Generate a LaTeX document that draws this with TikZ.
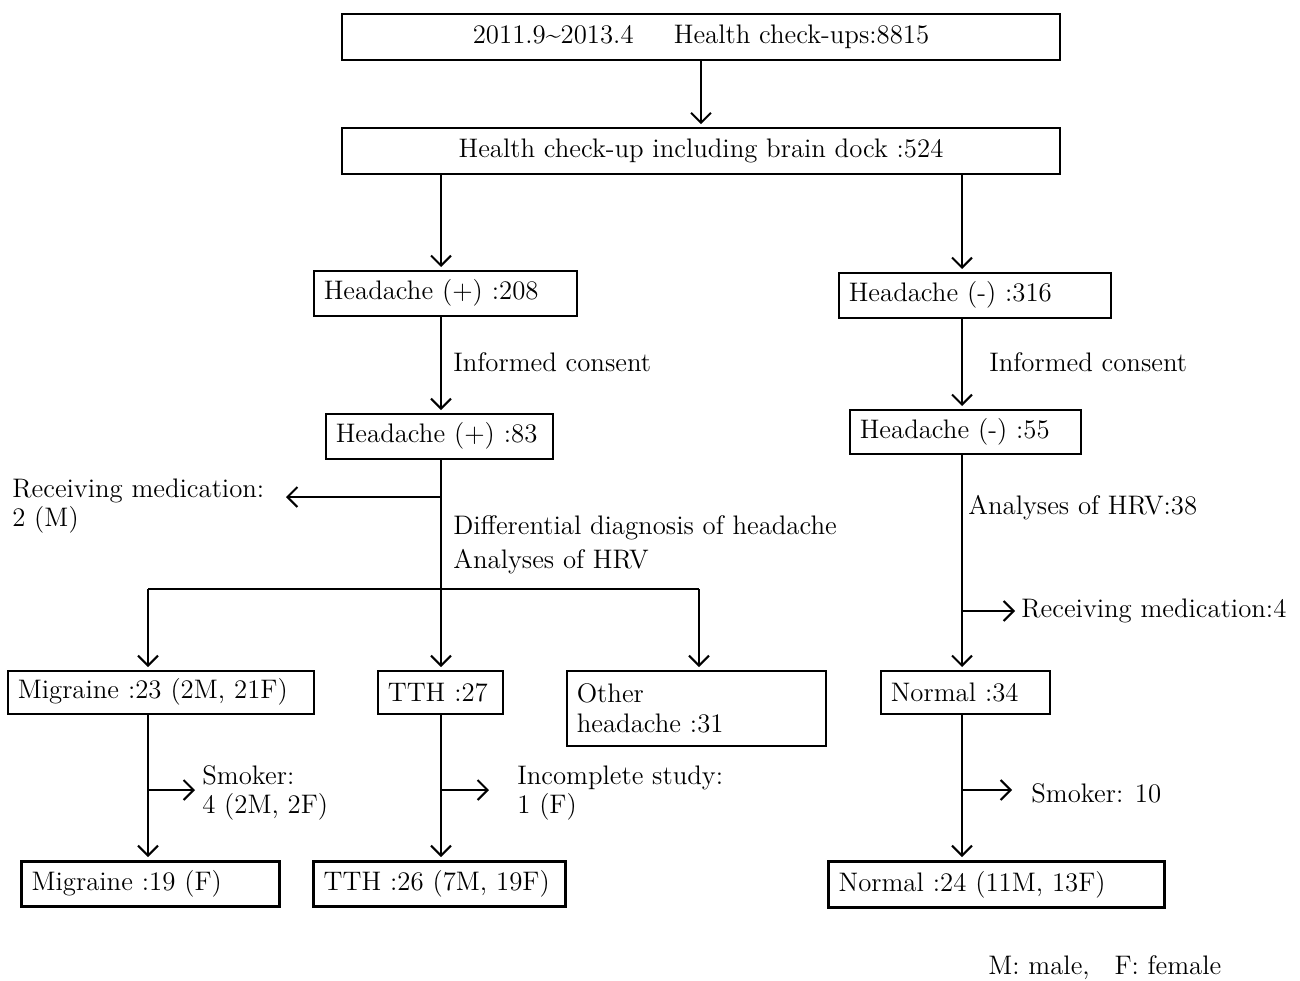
\documentclass[tikz,border=0pt]{standalone}
\usepackage{tikz}
\usetikzlibrary{arrows.meta,positioning}

\begin{document}
\begin{tikzpicture}[x=0.5pt,y=-0.5pt,
  every node/.style = {font=\fontsize{13.4}{14.8}\selectfont, inner sep=0pt},
  box/.style = {draw, rectangle, line width=0.8pt, inner xsep=5pt,
    align=left, anchor=north west},
  finalbox/.style = {box, line width=1.6pt},
  note/.style = {align=left, anchor=west},
  arr/.style = {line width=1pt, shorten >=1.5pt,
    -{Straight Barb[length=5pt,width=10pt]}},
  line/.style = {line width=1pt}]
  \useasboundingbox (0,0) rectangle (1300,980);
  \coordinate (colM) at (148,0);
  \coordinate (colL) at (441,0);
  \coordinate (colO) at (699,0);
  \coordinate (colR) at (962,0);
  \node[box, anchor=center, align=center, minimum width=359pt, minimum height=23pt]
    (checkups) at (701,37) {2011.9{\char"007E}2013.4\hspace{1.5em}Health check-ups:8815};
  \node[box, anchor=center, align=center, minimum width=359pt, minimum height=23pt]
    (braindock) at (701,151) {Health check-up including brain dock :524};
  \node[box, text width=121.5pt, minimum height=22.5pt] (hpos208) at (313,270) {Headache (+) :208};
  \node[box, text width=126pt, minimum height=22.5pt] (hneg316) at (838,272) {Headache (-) :316};
  \node[box, text width=103.5pt, minimum height=22.5pt] (hpos83) at (325,413) {Headache (+) :83};
  \node[box, text width=105.5pt, minimum height=22pt] (hneg55) at (849,409) {Headache (-) :55};
  \node[box, text width=143pt, minimum height=21.5pt] (mig23) at (7,670) {Migraine :23 (2M, 21F)};
  \node[box, text width=52.5pt, minimum height=21.5pt] (tth27) at (377,670) {TTH :27};
  \node[box, text width=119.5pt, minimum height=37.5pt] (other31) at (566,670) {Other\\headache :31};
  \node[box, text width=74.5pt, minimum height=21.5pt] (norm34) at (880,670) {Normal :34};
  \node[finalbox, text width=119pt, minimum height=22.5pt] (mig19) at (20,860) {Migraine :19 (F)};
  \node[finalbox, text width=116pt, minimum height=22.5pt] (tth26) at (312,860) {TTH :26 (7M, 19F)};
  \node[finalbox, text width=158pt, minimum height=23pt] (norm24) at (827,860) {Normal :24 (11M, 13F)};
  \node[note] (consentL) at (453,362) {Informed consent};
  \node[note] (consentR) at (989,362) {Informed consent};
  \node[note] (medL) at (12,506) {Receiving medication:\\2 (M)};
  \node[note] (diffdiag) at (453,545) {Differential diagnosis of headache\\[2pt]Analyses of HRV};
  \node[note] (hrv38) at (968,508) {Analyses of HRV:38};
  \node[note] (medR) at (1021,611) {Receiving medication:4};
  \node[note] (smokL) at (202,793) {Smoker:\\4 (2M, 2F)};
  \node[note] (incompl) at (517,793) {Incomplete study:\\1 (F)};
  \node[note] (smokR) at (1031,793) {Smoker: 10};
  \node[note] (legend) at (988,968) {M: male,\hspace{0.6em} F: female};
  \coordinate (split) at (441,589);
  \coordinate (medLfork) at (441,497);
  \coordinate (medLend) at (283,497);
  \coordinate (medRfork) at (962,611);
  \coordinate (medRend) at (1018,611);
  \coordinate (smokLfork) at (148,790);
  \coordinate (smokLend) at (198,790);
  \coordinate (incfork) at (441,790);
  \coordinate (incend) at (492,790);
  \coordinate (smokRfork) at (962,790);
  \coordinate (smokRend) at (1015,790);
  \draw[arr] (checkups) -- (braindock);
  \draw[arr] (braindock.south -| colL) -- (hpos208.north -| colL);
  \draw[arr] (braindock.south -| colR) -- (hneg316.north -| colR);
  \draw[arr] (hpos208.south -| colL) -- (hpos83.north -| colL);
  \draw[arr] (hneg316.south -| colR) -- (hneg55.north -| colR);
  \draw[line] (hpos83.south -| colL) -- (split);
  \draw[line] (split -| colM) -- (split -| colO);
  \draw[arr] (medLfork) -- (medLend);
  \draw[arr] (split -| colM) -- (mig23.north -| colM);
  \draw[arr] (split) -- (tth27.north -| colL);
  \draw[arr] (split -| colO) -- (other31.north -| colO);
  \draw[arr] (hneg55.south -| colR) -- (norm34.north -| colR);
  \draw[arr] (medRfork) -- (medRend);
  \draw[arr] (mig23.south -| colM) -- (mig19.north -| colM);
  \draw[arr] (smokLfork) -- (smokLend);
  \draw[arr] (tth27.south -| colL) -- (tth26.north -| colL);
  \draw[arr] (incfork) -- (incend);
  \draw[arr] (norm34.south -| colR) -- (norm24.north -| colR);
  \draw[arr] (smokRfork) -- (smokRend);
\end{tikzpicture}
\end{document}
